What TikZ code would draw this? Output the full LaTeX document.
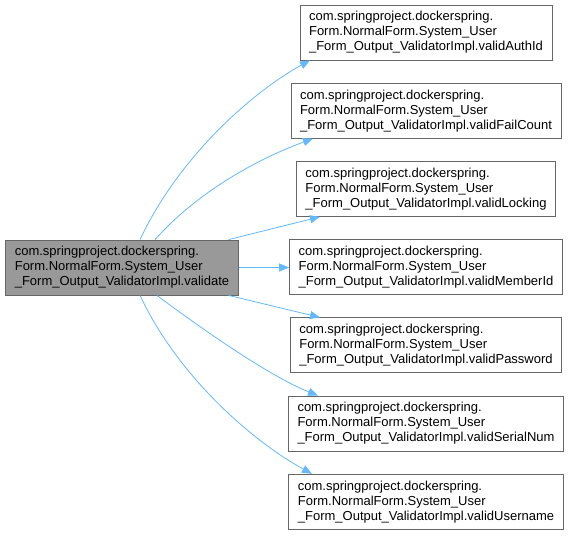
\documentclass[tikz,border=0pt]{standalone}
\usepackage{fontspec}
\setmainfont{Liberation Sans}
\usetikzlibrary{arrows.meta}
\definecolor{callblue}{HTML}{63B8FF}
\definecolor{boxgray}{HTML}{666666}
\definecolor{mainfill}{HTML}{999999}

\begin{document}
\begin{tikzpicture}[x=1pt,y=-1pt,>={Triangle[length=10pt,width=8pt]},
  fnbox/.style={draw=boxgray,fill=white,line width=0.8pt,align=left,
    inner xsep=9pt,minimum height=55pt,font=\fontsize{13}{15}\selectfont},
  mainbox/.style={fnbox,fill=mainfill},
  callline/.style={->,draw=callblue,line width=0.8pt}]
  \useasboundingbox (0,0) rectangle (569,537);
  % caller
  \node[mainbox] (main) at (122,267.5)
    {com.springproject.dockerspring.\\Form.NormalForm.System\_User\\\_Form\_Output\_ValidatorImpl.validate};
  % callees
  \foreach \i/\fn in {1/validAuthId,2/validFailCount,3/validLocking,4/validMemberId,
                      5/validPassword,6/validSerialNum,7/validUsername}
    \node[fnbox] (f\i) at (426,{32.5+78.2*(\i-1)})
      {com.springproject.dockerspring.\\Form.NormalForm.System\_User\\\_Form\_Output\_ValidatorImpl.\fn};
  % calls
  \draw[callline] ([xshift=18pt]main.north) .. controls +(40,-85) and +(-55,30) .. ([xshift=-116pt]f1.south);
  \draw[callline] ([xshift=33pt]main.north) .. controls +(40,-45) and +(-60,22) .. ([xshift=-113pt]f2.south);
  \draw[callline] ([xshift=-10pt]main.north east) -- ([xshift=-106pt]f3.south);
  \draw[callline] (main.east) -- (main.east -| f4.west);
  \draw[callline] ([xshift=-10pt]main.south east) -- ([xshift=-106pt]f5.north);
  \draw[callline] ([xshift=35pt]main.south) .. controls +(40,30) and +(-50,-20) .. ([xshift=-108pt]f6.north);
  \draw[callline] ([xshift=18pt]main.south) .. controls +(40,85) and +(-55,-30) .. ([xshift=-114pt]f7.north);
\end{tikzpicture}
\end{document}
